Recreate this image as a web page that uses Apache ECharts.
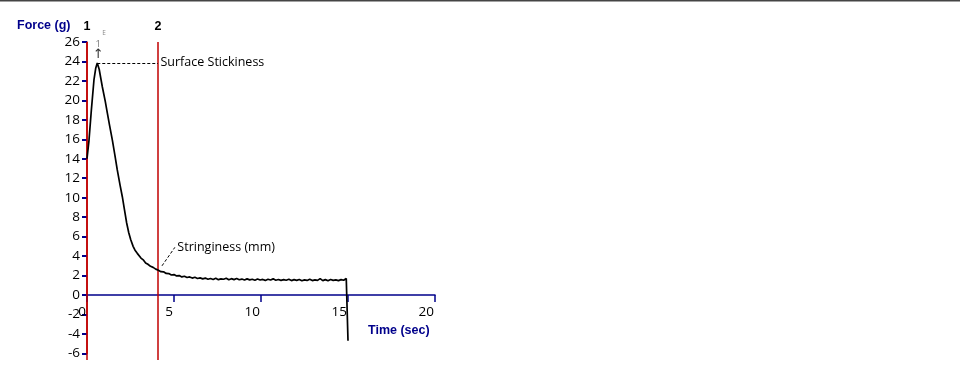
<!DOCTYPE html>
<html>
<head>
<meta charset="utf-8">
<script src="https://cdn.jsdelivr.net/npm/echarts@6/dist/echarts.min.js"></script>
<style>html,body{margin:0;padding:0;background:#fff}#c{width:960px;height:380px}</style>
</head>
<body>
<div id="c"></div>
<script>
// Time (sec) and Force (g)
var timeSec = [0, 0.02, 0.115, 0.25, 0.4, 0.5, 0.59, 0.7, 0.8, 0.88, 1.05, 1.17, 1.3, 1.46, 1.6, 1.74, 1.9, 2.03, 2.15, 2.28, 2.4, 2.51, 2.65, 2.76, 2.89, 3.1, 3.25, 3.37, 3.5, 3.65, 3.8, 3.95, 4.1,
  4.25, 4.4, 4.55, 4.7, 4.85, 5.0, 5.15, 5.3, 5.45, 5.6, 5.75, 5.9, 6.05, 6.2, 6.35, 6.5, 6.65, 6.8, 6.95, 7.1,
  7.25, 7.4, 7.55, 7.7, 7.85, 8.0, 8.15, 8.3, 8.45, 8.6, 8.75, 8.9, 9.05, 9.2, 9.35, 9.5, 9.65, 9.8, 9.95, 10.1,
  10.25, 10.4, 10.55, 10.7, 10.85, 11.0, 11.15, 11.3, 11.45, 11.6, 11.75, 11.9, 12.05, 12.2, 12.35, 12.5, 12.65, 12.8, 12.95, 13.1,
  13.25, 13.4, 13.55, 13.7, 13.85, 14.0, 14.15, 14.3, 14.45, 14.6, 14.75, 14.9, 15.0, 15.0];
var forceG = [14.0, 14.1, 15.9, 19.0, 22.1, 23.3, 23.85, 23.2, 22.2, 21.4, 19.9, 18.7, 17.4, 15.9, 14.4, 12.85, 11.3, 10.1, 8.8, 7.4, 6.4, 5.7, 5.0, 4.6, 4.28, 3.8, 3.58, 3.3, 3.16, 2.95, 2.84, 2.66, 2.55,
  2.40, 2.38, 2.22, 2.20, 2.06, 2.10, 1.96, 2.00, 1.86, 1.93, 1.80, 1.86, 1.74, 1.82, 1.70, 1.76, 1.66, 1.74, 1.62, 1.70,
  1.60, 1.72, 1.58, 1.66, 1.62, 1.72, 1.56, 1.68, 1.58, 1.70, 1.57, 1.64, 1.54, 1.66, 1.56, 1.62, 1.52, 1.64, 1.54, 1.60,
  1.50, 1.62, 1.54, 1.66, 1.52, 1.60, 1.50, 1.58, 1.52, 1.62, 1.48, 1.58, 1.50, 1.60, 1.46, 1.56, 1.50, 1.62, 1.48, 1.56,
  1.50, 1.68, 1.48, 1.58, 1.46, 1.60, 1.50, 1.56, 1.48, 1.58, 1.52, 1.70, 1.50, -4.7];

// Markers and annotations
var markerTimes = [0, 4.08];
var markerNames = ['1', '2'];
var markerTop = 26, markerBottom = -6.7;
var peakTime = 0.59, peakForce = 23.85;
var stringStart = [4.31, 3.0], stringEnd = [5.05, 4.9];

var yTicksMin = -6, yTicksMax = 26, yStep = 2;
var xTicksMin = 0, xTicksMax = 20, xStep = 5;

var navy = '#00008b';
var red = '#c00000';
var fontFam = '"Open Sans", "Liberation Sans", sans-serif';
var boldFont = '"Liberation Sans", Arial, sans-serif';

var data = timeSec.map(function (t, i) { return [t, forceG[i]]; });

function txtPoint(coord, text, color, size, pos, fam) {
  return {coord: coord, symbol: 'circle', symbolSize: 1, itemStyle: {color: 'rgba(0,0,0,0)'},
    label: {show: true, formatter: text, color: color, fontSize: size, fontFamily: fam || fontFam, position: pos || 'inside', distance: 2}};
}

var chart = echarts.init(document.getElementById('c'), null, {renderer: 'canvas'});
chart.setOption({
  animation: false,
  backgroundColor: '#fff',
  grid: [
    {left: 87, top: 42, width: 348, height: 311.4, containLabel: false},
    {left: 87, top: 3.1, width: 348, height: 356.9, containLabel: false}
  ],
  xAxis: [{
    type: 'value', gridIndex: 0, min: xTicksMin, max: xTicksMax, interval: xStep,
    offset: -58.4,
    axisLine: {show: true, onZero: false, lineStyle: {color: navy, width: 1.5}},
    axisTick: {show: true, length: 7, lineStyle: {color: navy, width: 1.5}},
    axisLabel: {color: '#000', fontSize: 13.5, fontFamily: fontFam, align: 'right', margin: 10, padding: [0, 1, 0, 0]},
    splitLine: {show: false}
  }, {
    type: 'value', gridIndex: 1, min: xTicksMin, max: xTicksMax, show: false
  }],
  yAxis: [{
    type: 'value', gridIndex: 0, min: yTicksMin, max: yTicksMax, interval: yStep,
    axisLine: {show: true, onZero: false, lineStyle: {color: red, width: 1.5}},
    axisTick: {show: true, length: 5, lineStyle: {color: navy, width: 2}},
    axisLabel: {color: '#000', fontSize: 13.5, fontFamily: fontFam, margin: 7},
    splitLine: {show: false}
  }, {
    type: 'value', gridIndex: 1, min: markerBottom, max: 30, show: false
  }],
  graphic: [
    {type: 'rect', shape: {x: 0, y: 0, width: 960, height: 1.5}, style: {fill: '#444'}},
    {type: 'text', left: 17, top: 19, style: {text: 'Force (g)', fill: navy, font: 'bold 12.5px ' + boldFont}},
    {type: 'text', left: 368, top: 324, style: {text: 'Time (sec)', fill: navy, font: 'bold 12.5px ' + boldFont}}
  ],
  series: [
    {
      type: 'line', xAxisIndex: 0, yAxisIndex: 0, data: data, showSymbol: false, symbol: 'none',
      lineStyle: {color: '#000', width: 1.7}, clip: false, z: 5
    },
    {
      type: 'line', xAxisIndex: 1, yAxisIndex: 1, data: [], silent: true, z: 3,
      markLine: {
        silent: true, symbol: 'none', animation: false,
        lineStyle: {color: red, width: 1.5, type: 'solid'},
        label: {show: true, position: 'start', formatter: '{b}', color: '#000', fontWeight: 'bold', fontSize: 12.5, fontFamily: boldFont, distance: 9},
        data: markerTimes.map(function (t, i) {
          return [{name: markerNames[i], coord: [t, markerTop]}, {coord: [t, markerBottom]}];
        })
      },
      markPoint: {
        silent: true, animation: false,
        data: [
          txtPoint([peakTime + 0.05, 24.75], '\u2191', '#333', 13, 'inside', '"DejaVu Sans", sans-serif'),
          txtPoint([peakTime + 0.05, 25.75], '1', '#777', 9.5),
          txtPoint([0.98, 26.9], 'E', '#888', 6.5),
          txtPoint(stringEnd, 'Stringiness (mm)', '#000', 12.5, 'right')
        ]
      }
    },
    {
      type: 'line', xAxisIndex: 0, yAxisIndex: 0, data: [], silent: true,
      markLine: {
        silent: true, symbol: 'none', animation: false,
        lineStyle: {color: '#000', width: 1, type: [3, 2]},
        label: {show: false},
        data: [
          [{coord: [peakTime, peakForce]}, {coord: [markerTimes[1], peakForce]}],
          [{coord: stringStart}, {coord: stringEnd}]
        ]
      },
      markPoint: {
        silent: true, animation: false,
        data: [txtPoint([markerTimes[1], peakForce], 'Surface Stickiness', '#000', 12.5, 'right')]
      }
    }
  ]
});
</script>
</body>
</html>
